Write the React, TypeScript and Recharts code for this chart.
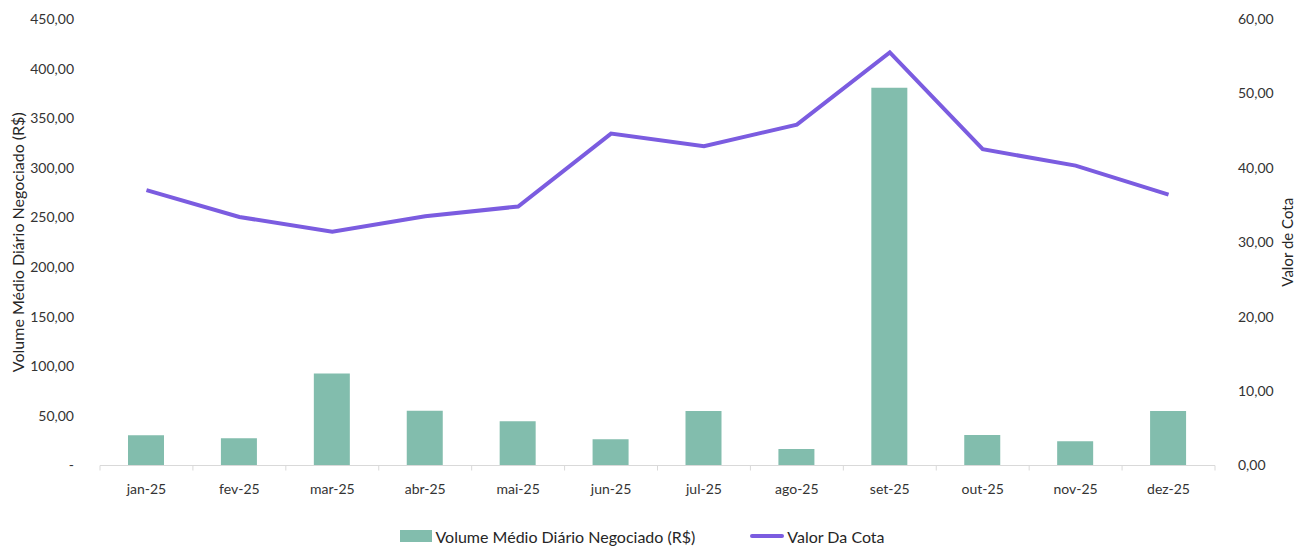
import React from "react";
import { ComposedChart, Bar, Line, XAxis, YAxis, Legend } from "recharts";

const months = ["jan-25","fev-25","mar-25","abr-25","mai-25","jun-25","jul-25","ago-25","set-25","out-25","nov-25","dez-25"];
const volume = [30.4, 27.4, 92.8, 55.2, 44.5, 26.4, 54.9, 16.6, 380.7, 30.7, 24.4, 54.9];
const cota = [37.0, 33.4, 31.4, 33.5, 34.8, 44.6, 42.9, 45.8, 55.5, 42.5, 40.3, 36.4];
const leftTicks = [0, 50, 100, 150, 200, 250, 300, 350, 400, 450];
const rightTicks = [0, 10, 20, 30, 40, 50, 60];

const data = months.map((m, i) => ({ month: m, volume: volume[i], cota: cota[i] }));

const FONT = "Lato, 'Open Sans', sans-serif";
const BAR_COLOR = "#82bdad";
const LINE_COLOR = "#7b5ce0";
const TEXT_COLOR = "#333333";
const HALF_BAND = 1115 / 12 / 2;

const fmt = (v: number) => v.toFixed(2).replace(".", ",");

const XTick = (props: any) => {
  const { x, y, payload, index } = props;
  const axisY = y - 8;
  const isLast = index === months.length - 1;
  return (
    <g>
      <line x1={x - HALF_BAND} y1={axisY} x2={x - HALF_BAND} y2={axisY + 5} stroke="#d9d9d9" strokeWidth={1} />
      {isLast && (
        <line x1={x + HALF_BAND} y1={axisY} x2={x + HALF_BAND} y2={axisY + 5} stroke="#d9d9d9" strokeWidth={1} />
      )}
      <text x={x} y={axisY + 28} textAnchor="middle" fill={TEXT_COLOR} fontSize={14} fontFamily={FONT}>
        {payload.value}
      </text>
    </g>
  );
};

const LegendContent = () => (
  <div style={{ display: "flex", justifyContent: "center", alignItems: "center", fontFamily: FONT, fontSize: 16, color: "#262626", height: 20, paddingRight: 20 }}>
    <span style={{ display: "inline-block", width: 32, height: 12, background: BAR_COLOR, marginRight: 3 }} />
    <span>Volume Médio Diário Negociado (R$)</span>
    <span style={{ display: "inline-block", width: 34, height: 4, background: LINE_COLOR, borderRadius: 2, marginLeft: 55, marginRight: 3 }} />
    <span>Valor Da Cota</span>
  </div>
);

export default function App() {
  return (
    <div style={{ position: "absolute", left: 0, top: 0, width: 1297, height: 546, background: "#fff" }}>
      <ComposedChart width={1297} height={546} data={data} margin={{ top: 19, right: 12, left: 20, bottom: 0 }}>
        <XAxis
          dataKey="month"
          xAxisId="x"
          height={60.5}
          axisLine={{ stroke: "#d9d9d9" }}
          tickLine={false}
          tick={<XTick />}
          interval={0}
        />
        <YAxis
          yAxisId="left"
          width={80}
          domain={[0, 450]}
          ticks={leftTicks}
          axisLine={false}
          tickLine={false}
          tick={{ fill: TEXT_COLOR, fontSize: 14, fontFamily: FONT }}
          tickFormatter={(v: number) => (v === 0 ? "-" : fmt(v))}
          tickMargin={20}
          label={{ value: "Volume Médio Diário Negociado (R$)", angle: -90, position: "insideLeft", offset: -2, style: { fill: "#262626", fontSize: 16, fontFamily: FONT, textAnchor: "middle" } }}
        />
        <YAxis
          yAxisId="right"
          orientation="right"
          width={70}
          domain={[0, 60]}
          ticks={rightTicks}
          axisLine={false}
          tickLine={false}
          tick={{ fill: TEXT_COLOR, fontSize: 14, fontFamily: FONT }}
          tickFormatter={(v: number) => fmt(v)}
          tickMargin={17}
          label={{ value: "Valor de Cota", angle: -90, position: "insideRight", offset: -3, style: { fill: "#262626", fontSize: 15, fontFamily: FONT, textAnchor: "middle" } }}
        />
        <Legend verticalAlign="bottom" height={20} content={<LegendContent />} />
        <Bar dataKey="volume" xAxisId="x" yAxisId="left" fill={BAR_COLOR} barSize={36} isAnimationActive={false} name="Volume Médio Diário Negociado (R$)" />
        <Line dataKey="cota" xAxisId="x" yAxisId="right" stroke={LINE_COLOR} strokeWidth={4} dot={false} isAnimationActive={false} name="Valor Da Cota" />
      </ComposedChart>
    </div>
  );
}
